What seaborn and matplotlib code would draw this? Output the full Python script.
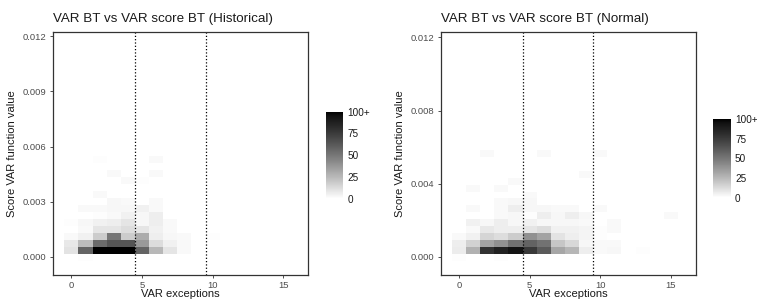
import numpy as np
import pandas as pd
import matplotlib
matplotlib.use("Agg")
import matplotlib.pyplot as plt
from matplotlib.colors import ListedColormap
import seaborn as sns

# --- data: 2d bin counts ---
# columns = VAR exceptions 0..15, rows = score bins from the lowest one (-1) upward
exceptions = list(range(16))
score_bin0 = 0.00015     # lower edge of score bin 0
score_binw = 0.00038     # score bin height

hist_counts = [
    [0, 1, 0, 0, 0, 0, 0, 0, 0, 0, 0, 0, 0, 0, 0, 0],
    [10, 58, 150, 140, 120, 58, 25, 9, 2, 0, 0, 0, 0, 0, 0, 0],
    [8, 24, 55, 64, 64, 37, 12, 5, 2, 0, 0, 0, 0, 0, 0, 0],
    [2, 5, 18, 50, 18, 30, 6, 3, 2, 0, 1, 0, 0, 0, 0, 0],
    [0, 2, 9, 9, 12, 9, 5, 2, 0, 0, 0, 0, 0, 0, 0, 0],
    [1, 3, 5, 6, 9, 3, 6, 2, 0, 0, 0, 0, 0, 0, 0, 0],
    [0, 0, 1, 2, 5, 3, 6, 0, 0, 0, 0, 0, 0, 0, 0, 0],
    [0, 2, 2, 3, 3, 5, 2, 0, 0, 0, 0, 0, 0, 0, 0, 0],
    [0, 0, 0, 3, 2, 0, 2, 0, 0, 0, 0, 0, 0, 0, 0, 0],
    [0, 0, 2, 0, 0, 0, 0, 0, 0, 0, 0, 0, 0, 0, 0, 0],
    [0, 0, 0, 0, 0, 0, 0, 0, 0, 0, 0, 0, 0, 0, 0, 0],
    [0, 0, 0, 0, 2, 1, 0, 0, 0, 0, 0, 0, 0, 0, 0, 0],
    [0, 0, 0, 2, 0, 0, 2, 0, 0, 0, 0, 0, 0, 0, 0, 0],
    [0, 0, 0, 0, 0, 0, 0, 0, 0, 0, 0, 0, 0, 0, 0, 0],
    [0, 0, 1, 0, 0, 0, 2, 0, 0, 0, 0, 0, 0, 0, 0, 0],
]

norm_counts = [
    [1, 0, 0, 1, 0, 0, 0, 0, 0, 0, 0, 0, 0, 0, 0, 0],
    [7, 28, 79, 87, 94, 76, 62, 32, 26, 6, 2, 3, 0, 1, 0, 0],
    [6, 16, 33, 40, 52, 58, 52, 20, 14, 3, 2, 2, 0, 0, 0, 0],
    [2, 5, 15, 12, 18, 40, 33, 10, 6, 4, 1, 0, 0, 0, 0, 0],
    [0, 2, 8, 6, 6, 9, 12, 5, 5, 4, 1, 2, 0, 0, 0, 0],
    [0, 5, 3, 6, 3, 5, 3, 3, 3, 2, 0, 2, 0, 0, 0, 0],
    [0, 0, 0, 2, 3, 1, 6, 3, 6, 3, 0, 0, 0, 0, 0, 2],
    [0, 2, 0, 2, 6, 3, 3, 2, 2, 0, 2, 0, 0, 0, 0, 0],
    [0, 0, 0, 2, 3, 3, 0, 0, 0, 0, 0, 0, 0, 0, 0, 0],
    [0, 0, 0, 0, 0, 2, 0, 0, 0, 0, 0, 0, 0, 0, 0, 0],
    [0, 2, 0, 2, 0, 0, 0, 0, 0, 0, 0, 0, 0, 0, 0, 0],
    [0, 0, 0, 0, 2, 0, 0, 0, 0, 0, 0, 0, 0, 0, 0, 0],
    [0, 0, 0, 0, 0, 0, 0, 0, 0, 2, 0, 0, 0, 0, 0, 0],
    [0, 0, 0, 0, 0, 0, 0, 0, 0, 0, 0, 0, 0, 0, 0, 0],
    [0, 0, 0, 0, 0, 0, 0, 0, 0, 0, 0, 0, 0, 0, 0, 0],
    [0, 0, 2, 0, 0, 0, 2, 0, 0, 0, 2, 0, 0, 0, 0, 0],
]

titles = ["VAR BT vs VAR score BT (Historical)", "VAR BT vs VAR score BT (Normal)"]
yticks_hist = [0.0, 0.003, 0.006, 0.009, 0.012]
yticks_norm = [0.0, 0.004, 0.008, 0.012]
cbar_ticks = [0, 25, 50, 75, 100]
cbar_labels = ["0", "25", "50", "75", "100+"]
cutoffs = [4.5, 9.5]


def to_long(grid):
    rows = []
    for r, line in enumerate(grid):
        for c, n in enumerate(line):
            if n > 0:
                yc = score_bin0 + score_binw * (r - 1 + 0.5)
                rows.append((exceptions[c], yc, n))
    return pd.DataFrame(rows, columns=["exceptions", "score", "n"])


# white -> black, linear in lightness like ggplot's gradient
L = np.linspace(100, 0, 256)
Y = np.where(L > 8, ((L + 16) / 116) ** 3, L / 903.3)
g = np.where(Y > 0.0031308, 1.055 * Y ** (1 / 2.4) - 0.055, 12.92 * Y)
grey_cmap = ListedColormap(np.column_stack([g, g, g]))

sns.set_theme(style="ticks")
plt.rcParams["font.family"] = ["Liberation Sans", "DejaVu Sans"]

fig = plt.figure(figsize=(7.57, 3.0), dpi=100)
ax1 = fig.add_axes([0.070, 0.0833, 0.337, 0.81])
ax2 = fig.add_axes([0.582, 0.0833, 0.337, 0.81])
cax1 = fig.add_axes([0.4307, 0.338, 0.0225, 0.29])
cax2 = fig.add_axes([0.942, 0.341, 0.0235, 0.262])

x_edges = np.arange(-0.5, 16.5, 1.0)
y_edges = score_bin0 + score_binw * np.arange(-1, 17)

panels = [(ax1, cax1, hist_counts, yticks_hist, (-0.00098, 0.01222)),
          (ax2, cax2, norm_counts, yticks_norm, (-0.001, 0.0123))]

for i, (ax, cax, grid, yt, ylim) in enumerate(panels):
    df = to_long(grid)
    sns.histplot(data=df, x="exceptions", y="score", weights="n",
                 bins=[x_edges, y_edges], cmap=grey_cmap, vmin=0, vmax=100,
                 cbar=True, cbar_ax=cax, ax=ax)
    for xv in cutoffs:
        ax.axvline(xv, color="black", linestyle=":", linewidth=0.9)
    ax.set_xlim(-1.3, 16.75)
    ax.set_ylim(*ylim)
    ax.set_xticks([0, 5, 10, 15])
    ax.set_yticks(yt)
    ax.set_yticklabels([f"{v:.3f}" for v in yt])
    ax.set_xlabel("VAR exceptions", fontsize=8, color="#1a1a1a", labelpad=-1)
    ax.set_ylabel("Score VAR function value", fontsize=8, color="#1a1a1a", labelpad=4)
    ax.set_title(titles[i], loc="left", fontsize=9.6, color="#1a1a1a", pad=7)
    ax.tick_params(labelsize=6.8, labelcolor="#4d4d4d", color="#333333",
                   length=2.5, width=0.6, pad=2)
    for s in ax.spines.values():
        s.set_visible(True)
        s.set_color("#333333")
        s.set_linewidth(0.9)

    cb = ax.collections[0].colorbar
    cb.outline.set_visible(False)
    cb.set_ticks(cbar_ticks)
    cb.set_ticklabels(cbar_labels)
    cax.tick_params(direction="in", length=3, width=0.7, color="white",
                    left=True, right=True, labelleft=False, labelright=True,
                    labelsize=7.2, labelcolor="#1a1a1a", pad=3)

fig.savefig("out.png", dpi=100)
